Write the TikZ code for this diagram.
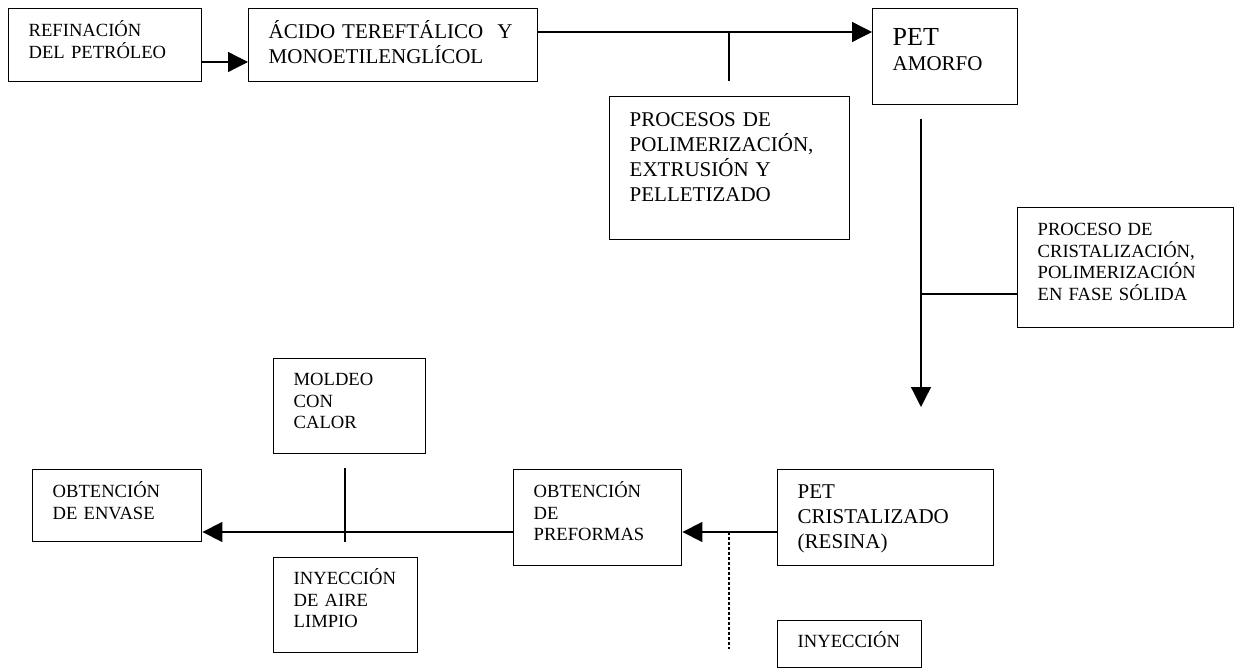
\documentclass[tikz,border=0pt]{standalone}
\usepackage{fontspec}
\setmainfont{Liberation Serif}
\usetikzlibrary{arrows.meta}
\hyphenpenalty=10000
\tikzset{
  caja/.style={draw, line width=.7pt, anchor=north west, inner xsep=10pt, inner ysep=0pt, align=left},
  chica/.style={font=\fontsize{9.3}{10.8}\selectfont},
  media/.style={font=\fontsize{10.5}{12.5}\selectfont},
  flecha/.style={-{Triangle[length=10pt,width=10pt]}},
  punteado/.style={line width=1.4pt, dash pattern=on 1.4pt off 1.1pt}
}
\begin{document}
\begin{tikzpicture}[x=.5pt, y=-.5pt, line width=.65pt]
\useasboundingbox (0,0) rectangle (1237,668);
\node[caja, chica, text width=76.5pt, text height=14pt, text depth=22.5pt] (ref) at (8,8) {REFINACIÓN\\DEL PETRÓLEO};
\node[caja, media, text width=124.5pt, text height=15pt, text depth=21.5pt] (acido) at (248,8) {ÁCIDO TEREFTÁLICO~ Y\\MONOETILENGLÍCOL};
\node[caja, media, text width=52.5pt, text height=18.5pt, text depth=29.5pt] (amorfo) at (872,8) {{\fontsize{13}{15}\selectfont PET}\\AMORFO};
\node[caja, media, text width=100pt, text height=15pt, text depth=56.5pt] (procesos) at (609,96) {PROCESOS DE\\POLIMERIZACIÓN,\\EXTRUSIÓN Y\\PELLETIZADO};
\node[caja, chica, text width=88pt, text height=14pt, text depth=46pt] (cristal) at (1017,207) {PROCESO DE\\CRISTALIZACIÓN,\\POLIMERIZACIÓN\\EN FASE SÓLIDA};
\node[caja, chica, text width=56pt, text height=13.5pt, text depth=34pt] (moldeo) at (273,358) {MOLDEO\\CON\\CALOR};
\node[caja, chica, text width=64.5pt, text height=14pt, text depth=22pt] (envase) at (32,469) {OBTENCIÓN\\DE ENVASE};
\node[caja, chica, text width=52pt, text height=13.5pt, text depth=34pt] (aire) at (273,557) {INYECCIÓN\\DE AIRE\\LIMPIO};
\node[caja, chica, text width=64pt, text height=14pt, text depth=34pt] (preformas) at (513,469) {OBTENCIÓN\\DE\\PREFORMAS};
\node[caja, media, text width=88pt, text height=14.5pt, text depth=33.5pt] (resina) at (777,469) {PET\\CRISTALIZADO\\(RESINA)};
\node[caja, chica, text width=52pt, text height=13.5pt, text depth=10pt] (inyeccion) at (777,620) {INYECCIÓN};
\coordinate (t1) at (729,81);
\coordinate (v1) at (921,119);
\coordinate (v2) at (921,407);
\coordinate (t2) at (345,468);
\coordinate (p1) at (729,649);
\draw[flecha] (ref.east |- 0,62) -- (acido.west |- 0,62);
\draw[flecha] (acido.east |- 0,32) -- (amorfo.west |- 0,32);
\draw (t1 |- 0,32) -- (t1);
\draw[flecha] (v1) -- (v2);
\draw (v1 |- 0,294) -- (cristal.west |- 0,294);
\draw[flecha] (resina.west |- 0,532) -- (preformas.east |- 0,532);
\draw[flecha] (preformas.west |- 0,532) -- (envase.east |- 0,532);
\draw (t2) -- (t2 |- 0,542);
\draw[punteado] (p1 |- 0,532) -- (p1);
\end{tikzpicture}
\end{document}
